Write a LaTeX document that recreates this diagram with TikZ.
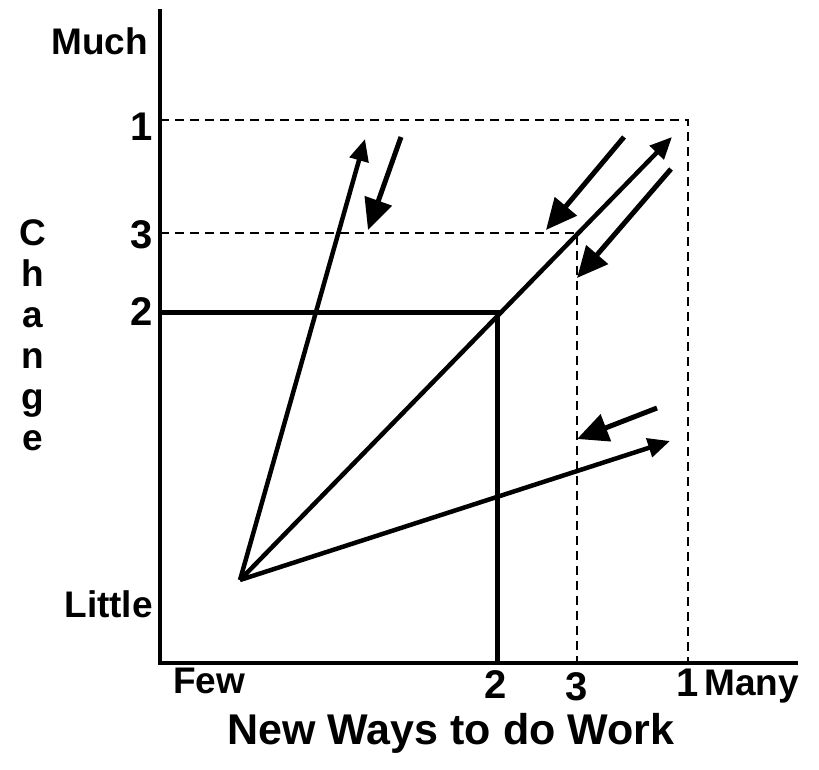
\documentclass[tikz,border=0pt]{standalone}
\usepackage{fontspec}
\setmainfont{Liberation Sans}
\usetikzlibrary{arrows.meta}
\begin{document}
\begin{tikzpicture}[x=1pt,y=-1pt,
  lab/.style={font=\bfseries\fontsize{37}{44}\selectfont, inner sep=0pt},
  num/.style={font=\bfseries\fontsize{40}{46}\selectfont, inner sep=0pt},
  ttl/.style={font=\bfseries\fontsize{43}{50}\selectfont, inner sep=0pt},
  axisline/.style={line width=3.5pt},
  levelline/.style={line width=5pt},
  guide/.style={line width=2.5pt, dash pattern=on 9pt off 6pt},
  vec/.style={line width=4.5pt, -{Triangle[length=22pt,width=19pt]}},
  bigvec/.style={line width=5pt, -{Triangle[length=31pt,width=28pt]}}]
\useasboundingbox (0,0) rectangle (819,770);

% axes
\coordinate (top) at (160,9);
\coordinate (corner) at (160,663);
\coordinate (right) at (798,663);
\draw[axisline] (top) -- (corner) -- (right);

% level 1 (dashed)
\coordinate (y1) at (160,120);
\coordinate (c1) at (688,120);
\coordinate (x1) at (688,663);
\draw[guide] (y1) -- (c1) -- (x1);

% level 3 (dashed)
\coordinate (y3) at (160,233);
\coordinate (c3) at (577,233);
\coordinate (x3) at (577,663);
\draw[guide] (y3) -- (c3) -- (x3);

% level 2 (solid)
\coordinate (y2) at (160,312);
\coordinate (c2) at (497,312);
\coordinate (x2) at (497,663);
\draw[levelline] (y2) -- (c2) -- (x2);

% origin and vectors
\coordinate (O) at (240,580);
\coordinate (tA) at (365,139);
\coordinate (tB) at (672,137);
\coordinate (tC) at (670,441);
\draw[vec] (O) -- (tA);
\draw[vec] (O) -- (tB);
\draw[vec] (O) -- (tC);

% return arrows
\coordinate (sA) at (401,137);
\coordinate (eA) at (368,230);
\draw[bigvec] (sA) -- (eA);
\coordinate (sB) at (624,137);
\coordinate (eB) at (546,230);
\draw[bigvec] (sB) -- (eB);
\coordinate (sC) at (671,169);
\coordinate (eC) at (577,278);
\draw[bigvec] (sC) -- (eC);
\coordinate (sD) at (657,408);
\coordinate (eD) at (577,439);
\draw[bigvec] (sD) -- (eD);

% y-axis labels
\node[lab, anchor=base east] (much) at (148,55) {Much};
\node[num, anchor=base east] (n1) at (153,141) {1};
\node[num, anchor=base east] (n3) at (153,248) {3};
\node[num, anchor=base east] (n2) at (153,325) {2};
\node[lab, anchor=base east] (little) at (153,617) {Little};

\foreach \ch [count=\i] in {C,h,a,n,g,e}
  \node[lab, anchor=base] (ch\i) at (33,204+41*\i) {\ch};

% x-axis labels
\node[lab, anchor=base west] (few) at (173,693) {Few};
\node[num, anchor=base] (m2) at (496,698) {2};
\node[num, anchor=base] (m3) at (577,700) {3};
\node[num, anchor=base] (m1) at (688,696) {1};
\node[lab, anchor=base west] (many) at (704,695) {Many};
\node[ttl, anchor=base] (title) at (451,744) {New Ways to do Work};
\end{tikzpicture}
\end{document}
